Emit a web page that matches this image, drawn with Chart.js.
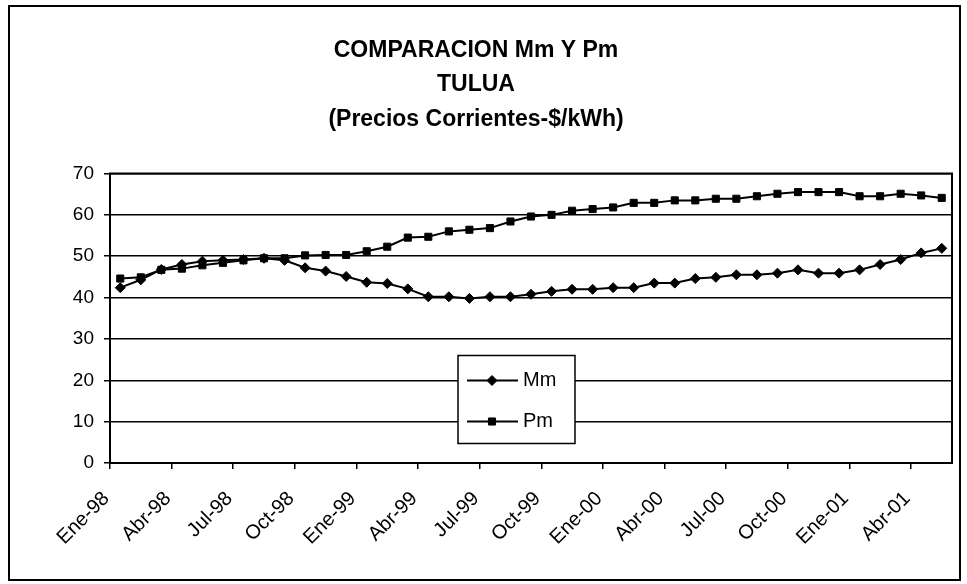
<!DOCTYPE html>
<html>
<head>
<meta charset="utf-8">
<script src="https://cdn.jsdelivr.net/npm/chart.js@4"></script>
<style>
  html, body { margin: 0; padding: 0; background: #fff; }
  #wrap { width: 967px; height: 584px; position: relative; }
</style>
</head>
<body>
<div id="wrap"><canvas id="chart"></canvas></div>
<script>
const months = [
  "Ene-98", "Feb-98", "Mar-98", "Abr-98", "May-98", "Jun-98", "Jul-98", "Ago-98", "Sep-98", "Oct-98", "Nov-98", "Dic-98",
  "Ene-99", "Feb-99", "Mar-99", "Abr-99", "May-99", "Jun-99", "Jul-99", "Ago-99", "Sep-99", "Oct-99", "Nov-99", "Dic-99",
  "Ene-00", "Feb-00", "Mar-00", "Abr-00", "May-00", "Jun-00", "Jul-00", "Ago-00", "Sep-00", "Oct-00", "Nov-00", "Dic-00",
  "Ene-01", "Feb-01", "Mar-01", "Abr-01", "May-01"
];
const mm = [
  42.4, 44.3, 46.8, 48.0, 48.8, 49.0, 49.2, 49.5, 49.0, 47.2, 46.4, 45.1,
  43.7, 43.4, 42.1, 40.2, 40.2, 39.8, 40.2, 40.2, 40.8, 41.5, 42.0, 42.0,
  42.4, 42.4, 43.5, 43.5, 44.6, 44.9, 45.5, 45.5, 45.9, 46.7, 45.9, 45.9,
  46.7, 48.0, 49.2, 50.8, 51.9
];
const pm = [
  44.6, 44.9, 46.7, 47.0, 47.8, 48.4, 49.0, 49.5, 49.5, 50.2, 50.3, 50.3,
  51.2, 52.3, 54.5, 54.7, 56.0, 56.4, 56.8, 58.4, 59.6, 60.0, 61.0, 61.4,
  61.8, 62.9, 62.9, 63.5, 63.5, 63.9, 63.9, 64.5, 65.1, 65.5, 65.5, 65.5,
  64.5, 64.5, 65.1, 64.7, 64.1
];
const yTicks = [0, 10, 20, 30, 40, 50, 60, 70];
const titleLines = ["COMPARACION Mm Y Pm", "TULUA", "(Precios Corrientes-$/kWh)"];

const FONT = "'Liberation Sans', Arial, sans-serif";
Chart.defaults.font.family = FONT;
Chart.defaults.color = "#000";

// outer frame + plot box + boxed legend like the Excel original
const excelLook = {
  id: "excelLook",
  beforeDraw(chart) {
    const ctx = chart.ctx;
    ctx.save();
    ctx.fillStyle = "#fff";
    ctx.fillRect(0, 0, chart.width, chart.height);
    ctx.strokeStyle = "#000";
    ctx.lineWidth = 2;
    ctx.strokeRect(9, 6, chart.width - 16, chart.height - 10);
    ctx.restore();
  },
  afterDatasetsDraw(chart) {
    const ctx = chart.ctx, a = chart.chartArea;
    ctx.save();
    ctx.strokeStyle = "#000";
    ctx.lineWidth = 2;
    ctx.strokeRect(a.left, a.top, a.right - a.left, a.bottom - a.top);

    // legend box
    const bx = a.left + 348, by = a.top + 182, bw = 117, bh = 88;
    ctx.fillStyle = "#fff";
    ctx.fillRect(bx, by, bw, bh);
    ctx.lineWidth = 1.5;
    ctx.strokeRect(bx, by, bw, bh);
    chart.data.datasets.forEach((ds, i) => {
      const y = by + 25 + i * 41;
      ctx.strokeStyle = "#000";
      ctx.fillStyle = "#000";
      ctx.lineWidth = 2;
      ctx.beginPath();
      ctx.moveTo(bx + 9, y);
      ctx.lineTo(bx + 60, y);
      ctx.stroke();
      ctx.lineWidth = 1;
      Chart.helpers.drawPoint(ctx, {
        pointStyle: ds.pointStyle, radius: ds.pointRadius, rotation: 0, borderWidth: 1
      }, bx + 34, y);
      ctx.font = "20px " + FONT;
      ctx.textBaseline = "middle";
      ctx.fillText(ds.label, bx + 65, y);
    });
    ctx.restore();
  }
};

new Chart(document.getElementById("chart"), {
  type: "line",
  data: {
    labels: months,
    datasets: [
      {
        label: "Mm",
        data: mm,
        borderColor: "#000",
        backgroundColor: "#000",
        borderWidth: 2,
        pointStyle: "rectRot",
        pointRadius: 5,
        pointBorderWidth: 1,
        tension: 0,
      },
      {
        label: "Pm",
        data: pm,
        borderColor: "#000",
        backgroundColor: "#000",
        borderWidth: 2,
        pointStyle: "rect",
        pointRadius: 5,
        pointBorderWidth: 1,
        tension: 0,
      }
    ]
  },
  options: {
    responsive: true,
    maintainAspectRatio: false,
    animation: false,
    layout: { padding: { left: 0, right: 15, top: 0, bottom: 0 } },
    plugins: {
      legend: { display: false },
      tooltip: { enabled: false },
      title: {
        display: true,
        text: titleLines,
        color: "#000",
        font: { size: 23, weight: "bold", family: FONT, lineHeight: 1.5 },
        padding: { top: 33, bottom: 37 }
      }
    },
    scales: {
      x: {
        offset: true,
        afterFit: (s) => { s.height = 121; s.paddingLeft = 0; s.paddingRight = 0; },
        border: { color: "#000", width: 2 },
        grid: {
          offset: true,
          drawOnChartArea: false,
          drawTicks: true,
          tickLength: 6,
          color: (c) => (c.index % 3 === 0 ? "#000" : "rgba(0,0,0,0)"),
          lineWidth: 1.5
        },
        ticks: {
          autoSkip: false,
          maxRotation: 45,
          minRotation: 45,
          labelOffset: -14,
          padding: 18,
          font: { size: 20 },
          color: "#000",
          callback: function(v, i) { return i % 3 === 0 ? months[i] : ""; }
        }
      },
      y: {
        min: yTicks[0],
        max: yTicks[yTicks.length - 1],
        afterFit: (s) => { s.width = 110; },
        afterBuildTicks: (s) => { s.ticks = yTicks.map(v => ({ value: v })); },
        border: { color: "#000", width: 2 },
        grid: {
          color: "#000",
          lineWidth: 1.5,
          drawTicks: true,
          tickLength: 6
        },
        ticks: {
          font: { size: 19 },
          color: "#000",
          padding: 10
        }
      }
    }
  },
  plugins: [excelLook]
});
</script>
</body>
</html>
